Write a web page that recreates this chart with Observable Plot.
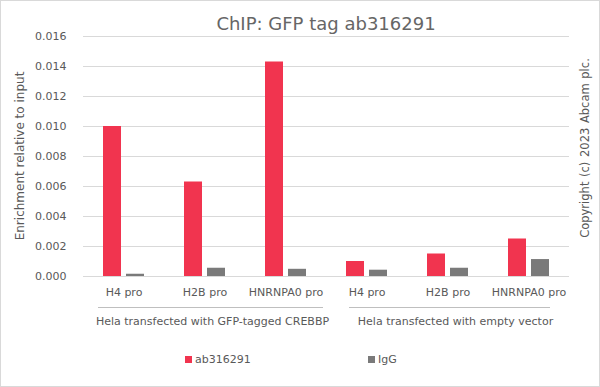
<!DOCTYPE html>
<html><head><meta charset="utf-8">
<script src="https://cdn.jsdelivr.net/npm/d3@7"></script>
<script src="https://cdn.jsdelivr.net/npm/@observablehq/plot@0.6"></script>
<style>
html,body{margin:0;padding:0;background:#fff;}
#chart{width:600px;height:387px;position:relative;}
#frame{position:absolute;left:0;top:0;width:600px;height:387px;box-sizing:border-box;border:1px solid #d9d9d9;pointer-events:none;}
svg{display:block;}
</style></head><body><div id="chart"><div id="frame"></div></div>
<script>
const categories = ["H4 pro","H2B pro","HNRNPA0 pro","H4 pro","H2B pro","HNRNPA0 pro"];
const groups = ["Hela transfected with GFP-tagged CREBBP","Hela transfected with empty vector"];
const groupOf = [0,0,0,1,1,1];
const series = ["ab316291","IgG"];
const ab316291 = [0.0100,0.0063,0.0143,0.0010,0.0015,0.0025];
const igg = [0.00015,0.00055,0.00048,0.00042,0.00055,0.00113];
const yTicks = [0,0.002,0.004,0.006,0.008,0.010,0.012,0.014,0.016];
const title = "ChIP: GFP tag ab316291";
const yLabel = "Enrichment relative to input";
const copyright = "Copyright (c) 2023 Abcam plc.";

const colors = ["#f1344f","#7a7a7a"];
const font = "DejaVu Sans, sans-serif";
const textColor = "#595959";

const values = [ab316291, igg];
const data = categories.flatMap((c,i)=>series.map((s,k)=>({i, s, v: values[k][i]})));

const plot = Plot.plot({
  width:600, height:387,
  marginTop:36, marginBottom:111, marginLeft:80, marginRight:29,
  style:{fontFamily:font, fontSize:"11px", color:textColor, background:"transparent"},
  fx:{domain:d3.range(categories.length), padding:0, label:null, axis:null},
  x:{domain:series, axis:null, paddingInner:5/24, paddingOuter:0.8125},
  y:{domain:[0,0.016], axis:null, label:null},
  color:{domain:series, range:colors},
  marks:[
    Plot.gridY(yTicks,{stroke:"#d9d9d9", strokeOpacity:1}),
    Plot.barY(data,{fx:"i", x:"s", y:"v", fill:"s"}),
    Plot.axisY(yTicks,{tickSize:0, tickPadding:17, tickFormat:d3.format(".3f"), label:null, fill:textColor}),
    Plot.axisFx({anchor:"bottom", tickSize:0, tickPadding:12, tickFormat:i=>categories[i], label:null, fill:textColor})
  ]
});
document.getElementById("chart").prepend(plot);

const svg = d3.select(plot);
const fx = plot.scale("fx");
const y = plot.scale("y");
const bw = fx.bandwidth;
const x0 = fx.apply(0), x1 = fx.apply(categories.length-1) + bw;

// title
svg.append("text").attr("x",(x0+x1)/2).attr("y",30).attr("text-anchor","middle")
  .attr("font-family",font).attr("font-size",18).attr("fill","#666").text(title);

// y label
const yc = (y.apply(0)+y.apply(0.016))/2;
svg.append("text").attr("transform",`translate(24,${yc}) rotate(-90)`).attr("text-anchor","middle")
  .attr("font-family",font).attr("font-size",12).attr("fill",textColor).text(yLabel);

// copyright
svg.append("text").attr("transform",`translate(589,148) rotate(-90)`).attr("text-anchor","middle")
  .attr("font-family",font).attr("font-size",11.5).attr("fill",textColor).attr("word-spacing",1).text(copyright);

// group lines and labels
const lineInset = [[15,3],[23,19]];
groups.forEach((g,gi)=>{
  const idx = groupOf.map((d,i)=>d===gi?i:-1).filter(i=>i>=0);
  const a = fx.apply(idx[0]), b = fx.apply(idx[idx.length-1]) + bw;
  svg.append("line").attr("x1",a+lineInset[gi][0]).attr("x2",b-lineInset[gi][1])
    .attr("y1",307.5).attr("y2",307.5).attr("stroke","#bfbfbf").attr("stroke-width",1);
  svg.append("text").attr("x",(a+b)/2+8).attr("y",325).attr("text-anchor","middle")
    .attr("font-family",font).attr("font-size",11).attr("fill",textColor).text(g);
});

// legend
const legendX = [185, 368];
series.forEach((s,k)=>{
  svg.append("rect").attr("x",legendX[k]).attr("y",356).attr("width",7).attr("height",7).attr("fill",colors[k]);
  svg.append("text").attr("x",legendX[k]+10).attr("y",363).attr("text-anchor","start").attr("font-family",font).attr("font-size",11)
    .attr("fill",textColor).text(s);
});
</script>
</body></html>
